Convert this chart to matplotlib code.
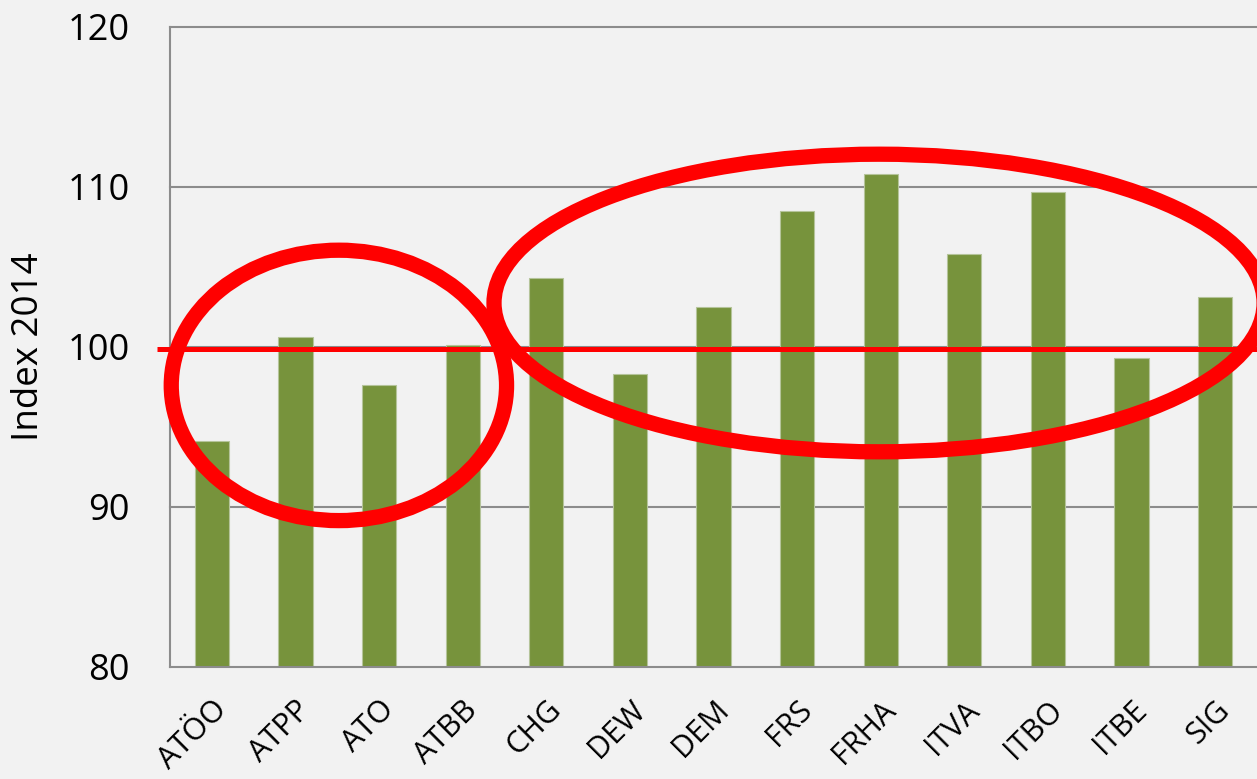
import matplotlib
matplotlib.use("Agg")
import matplotlib.pyplot as plt
from matplotlib.patches import Ellipse

categories = ["ATÖO", "ATPP", "ATO", "ATBB", "CHG", "DEW", "DEM", "FRS", "FRHA", "ITVA", "ITBO", "ITBE", "SIG"]
values = [94.1, 100.6, 97.6, 100.1, 104.3, 98.3, 102.5, 108.5, 110.8, 105.8, 109.7, 99.3, 103.1]
yticks = [80, 90, 100, 110, 120]
reference_level = 99.9

plt.rcParams['font.family'] = ['Open Sans', 'DejaVu Sans']

W, H = 1257, 779
fig = plt.figure(figsize=(W / 100, H / 100), dpi=100)
fig.patch.set_facecolor('#f2f2f2')
ax = fig.add_axes([170 / W, 1 - 667 / H, (W - 170) / W, (667 - 27) / H])
ax.set_facecolor('#f2f2f2')

x = list(range(len(categories)))
ax.bar(x, values, width=0.41, color='#77933c', edgecolor='#b5c49a', linewidth=0.8, zorder=2)

ax.set_xlim(-0.5, len(categories) - 0.5)
ax.set_ylim(80, 120)
ax.set_yticks(yticks)
ax.set_yticklabels([str(t) for t in yticks], fontsize=26)
ax.set_xticks(x)
ax.set_xticklabels(categories, fontsize=22, rotation=45, ha='right', rotation_mode='anchor')
ax.tick_params(axis='both', length=0)
ax.tick_params(axis='x', pad=20)
ax.tick_params(axis='y', pad=29)
ax.set_ylabel('Index 2014', fontsize=26.5, labelpad=15)

for t in yticks[1:]:
    ax.axhline(t, color='#8c8c8c', linewidth=1.5, zorder=1, clip_on=False)
for s in ['top', 'right']:
    ax.spines[s].set_visible(False)
for s in ['left', 'bottom']:
    ax.spines[s].set_color('#8c8c8c')
    ax.spines[s].set_linewidth(1.5)

# annotation: reference line and highlight ellipses
ax.plot([-0.655, len(categories) - 0.5], [reference_level, reference_level], color='#ff0000',
        linewidth=3.6, zorder=3, clip_on=False, solid_capstyle='butt')
ax.add_patch(Ellipse((1.52, 97.6), 4.01, 16.9, fill=False, edgecolor='#ff0000',
                     linewidth=11, zorder=4, clip_on=False))
ax.add_patch(Ellipse((7.98, 102.75), 9.21, 18.6, fill=False, edgecolor='#ff0000',
                     linewidth=11, zorder=4, clip_on=False))

fig.savefig('out.png', dpi=100, facecolor=fig.get_facecolor())
